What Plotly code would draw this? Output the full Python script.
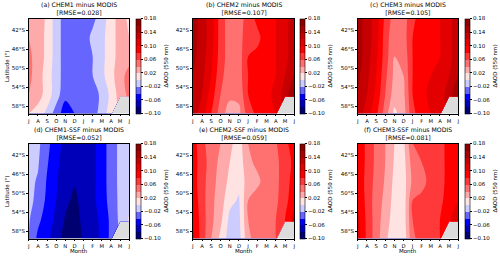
import plotly.graph_objects as go

months = ["J", "A", "S", "O", "N", "D", "J", "F", "M", "A", "M", "J"]
month_idx = list(range(12))
lats = [-39.5, -43.5, -47.5, -51.5, -55.5, -59.5]
lat_ticks = [-42, -46, -50, -54, -58]
lat_labels = ["42°S", "46°S", "50°S", "54°S", "58°S"]
nan = float("nan")

chem1 = [
    [0.025, 0.035, 0.015, -0.01, -0.03, -0.03, -0.03, -0.025, -0.01, 0.01, 0.03, 0.015],
    [0.04, 0.03, 0.015, -0.01, -0.03, -0.03, -0.03, -0.015, -0.005, 0.01, 0.03, 0.02],
    [0.045, 0.03, 0.015, -0.01, -0.03, -0.03, -0.03, -0.02, -0.005, 0.01, 0.03, 0.035],
    [0.045, 0.03, 0.01, -0.01, -0.03, -0.03, -0.03, -0.02, -0.005, 0.012, 0.035, 0.045],
    [0.04, 0.03, 0.01, -0.01, -0.035, -0.035, -0.03, -0.03, -0.015, 0.005, 0.03, 0.045],
    [0.02, 0.01, -0.005, -0.03, -0.05, -0.04, -0.035, -0.03, -0.01, 0.01, nan, nan],
]
chem2 = [
    [0.15, 0.13, 0.11, 0.07, 0.05, 0.05, 0.07, 0.085, 0.09, 0.10, 0.115, 0.13],
    [0.15, 0.13, 0.11, 0.07, 0.05, 0.05, 0.075, 0.075, 0.09, 0.10, 0.115, 0.13],
    [0.145, 0.13, 0.105, 0.07, 0.05, 0.05, 0.08, 0.085, 0.09, 0.10, 0.115, 0.13],
    [0.14, 0.125, 0.10, 0.065, 0.05, 0.05, 0.08, 0.09, 0.095, 0.10, 0.12, 0.14],
    [0.14, 0.12, 0.09, 0.06, 0.045, 0.045, 0.08, 0.09, 0.095, 0.105, 0.13, 0.16],
    [0.13, 0.11, 0.08, 0.05, 0.03, 0.035, 0.07, 0.085, 0.09, 0.10, nan, nan],
]
chem3 = [
    [0.15, 0.13, 0.11, 0.075, 0.05, 0.05, 0.075, 0.09, 0.095, 0.10, 0.115, 0.13],
    [0.15, 0.13, 0.11, 0.07, 0.045, 0.05, 0.08, 0.09, 0.095, 0.10, 0.115, 0.13],
    [0.15, 0.13, 0.105, 0.07, 0.04, 0.045, 0.08, 0.09, 0.095, 0.10, 0.115, 0.13],
    [0.145, 0.125, 0.10, 0.065, 0.035, 0.04, 0.08, 0.09, 0.10, 0.105, 0.12, 0.14],
    [0.14, 0.12, 0.095, 0.06, 0.03, 0.035, 0.08, 0.095, 0.105, 0.11, 0.13, 0.16],
    [0.13, 0.11, 0.085, 0.05, 0.015, 0.03, 0.075, 0.09, 0.10, 0.105, nan, nan],
]
chem1_ssf = [
    [-0.012, -0.015, -0.035, -0.05, -0.068, -0.072, -0.07, -0.065, -0.05, -0.03, -0.015, -0.01],
    [-0.012, -0.018, -0.038, -0.055, -0.07, -0.075, -0.07, -0.065, -0.05, -0.03, -0.015, -0.01],
    [-0.015, -0.022, -0.042, -0.058, -0.072, -0.078, -0.07, -0.065, -0.05, -0.03, -0.015, -0.008],
    [-0.015, -0.025, -0.045, -0.06, -0.075, -0.085, -0.072, -0.065, -0.05, -0.032, -0.015, -0.005],
    [-0.018, -0.035, -0.05, -0.065, -0.082, -0.088, -0.075, -0.068, -0.055, -0.035, -0.015, 0.002],
    [-0.02, -0.045, -0.055, -0.07, -0.09, -0.09, -0.078, -0.07, -0.055, -0.035, nan, nan],
]
chem2_ssf = [
    [0.09, 0.065, 0.05, 0.04, 0.025, 0.01, 0.04, 0.05, 0.05, 0.058, 0.075, 0.09],
    [0.09, 0.07, 0.05, 0.035, 0.02, 0.008, 0.035, 0.045, 0.05, 0.055, 0.07, 0.085],
    [0.09, 0.068, 0.048, 0.032, 0.015, 0.005, 0.03, 0.035, 0.05, 0.055, 0.07, 0.09],
    [0.095, 0.068, 0.045, 0.03, 0.005, -0.002, 0.04, 0.05, 0.05, 0.055, 0.075, 0.09],
    [0.10, 0.07, 0.045, 0.025, -0.005, -0.005, 0.04, 0.05, 0.05, 0.06, 0.08, 0.11],
    [0.105, 0.07, 0.04, 0.015, -0.01, -0.008, 0.035, 0.05, 0.05, 0.06, nan, nan],
]
chem3_ssf = [
    [0.095, 0.075, 0.055, 0.04, 0.02, 0.015, 0.06, 0.07, 0.07, 0.075, 0.085, 0.095],
    [0.095, 0.075, 0.055, 0.04, 0.018, 0.012, 0.05, 0.06, 0.07, 0.075, 0.085, 0.095],
    [0.095, 0.073, 0.053, 0.038, 0.015, 0.01, 0.045, 0.05, 0.07, 0.075, 0.085, 0.095],
    [0.10, 0.073, 0.05, 0.035, 0.012, 0.008, 0.06, 0.068, 0.07, 0.075, 0.09, 0.10],
    [0.105, 0.075, 0.05, 0.03, 0.01, 0.008, 0.06, 0.07, 0.075, 0.08, 0.095, 0.12],
    [0.11, 0.075, 0.05, 0.025, 0.005, 0.005, 0.055, 0.07, 0.075, 0.08, nan, nan],
]

titles = [
    "(a) CHEM1 minus MODIS<br>[RMSE=0.028]",
    "(b) CHEM2 minus MODIS<br>[RMSE=0.107]",
    "(c) CHEM3 minus MODIS<br>[RMSE=0.105]",
    "(d) CHEM1-SSF minus MODIS<br>[RMSE=0.052]",
    "(e) CHEM2-SSF minus MODIS<br>[RMSE=0.059]",
    "(f) CHEM3-SSF minus MODIS<br>[RMSE=0.081]",
]
panels = [chem1, chem2, chem3, chem1_ssf, chem2_ssf, chem3_ssf]

band_colors = [
    "#000070", "#0000b8", "#0000ff", "#6666ff", "#ccccff",
    "#ffe3e3", "#ffaaaa", "#ff7171", "#ff3939", "#ff0000",
    "#e30000", "#c60000", "#aa0000", "#8e0000",
]
cb_ticks = [-0.10, -0.06, -0.02, 0.02, 0.06, 0.10, 0.14, 0.18]
cb_text = ["−0.10", "−0.06", "−0.02", "0.02", "0.06", "0.10", "0.14", "0.18"]

n = len(band_colors)
colorscale = []
for i, c in enumerate(band_colors):
    colorscale.append([i / n, c])
    colorscale.append([(i + 1) / n, c])

W, H = 500, 256
col_x = [(27, 128, 135), (192, 294, 300), (358, 459, 466)]
row_y = [(18.5, 113.5), (143.5, 238.5)]
FONT = "DejaVu Sans"

fig = go.Figure()
annotations = []
for k, z in enumerate(panels):
    r, c = divmod(k, 3)
    x0, x1, cbx = col_x[c]
    y0, y1 = row_y[r]
    ax = k + 1
    xa = "x" if ax == 1 else f"x{ax}"
    ya = "y" if ax == 1 else f"y{ax}"
    fig.add_trace(go.Contour(
        x=month_idx, y=lats, z=z,
        xaxis=xa, yaxis=ya,
        zmin=-0.10, zmax=0.18,
        autocontour=False,
        contours=dict(start=-0.10, end=0.18, size=0.02, coloring="fill", showlines=False),
        line=dict(width=0, color="rgba(0,0,0,0)"),
        colorscale=colorscale,
        connectgaps=False,
        colorbar=dict(
            x=cbx / W, xanchor="left", xpad=0, ypad=0,
            y=1 - (y0 + y1) / 2 / H, yanchor="middle",
            len=(y1 - y0) / H, lenmode="fraction",
            thickness=4.5, thicknessmode="pixels",
            outlinewidth=0.6, outlinecolor="black",
            tickvals=cb_ticks, ticktext=cb_text,
            ticks="outside", ticklen=2, tickwidth=0.6, tickcolor="black",
            tickfont=dict(size=5.5, family=FONT, color="black"),
            title=dict(text="ΔAOD (550 nm)", side="right", font=dict(size=5.5, family=FONT, color="black")),
        ),
        hoverinfo="skip",
    ))
    key = "" if ax == 1 else str(ax)
    fig.layout["xaxis" + key] = dict(
        domain=[x0 / W, x1 / W], anchor=ya, range=[0, 11],
        tickvals=month_idx, ticktext=months,
        ticks="outside", ticklen=2, tickwidth=0.6, tickcolor="black",
        tickfont=dict(size=5.3, family=FONT, color="black"),
        showline=True, mirror=True, linecolor="black", linewidth=0.6,
        showgrid=False, zeroline=False,
    )
    fig.layout["yaxis" + key] = dict(
        domain=[1 - y1 / H, 1 - y0 / H], anchor=xa, range=[-59.5, -39.5],
        tickvals=lat_ticks, ticktext=lat_labels,
        ticks="outside", ticklen=2, tickwidth=0.6, tickcolor="black",
        tickfont=dict(size=5.5, family=FONT, color="black"),
        showline=True, mirror=True, linecolor="black", linewidth=0.6,
        showgrid=False, zeroline=False,
    )
    annotations.append(dict(
        text=titles[k], x=(x0 + x1) / 2 / W, y=1 - (y0 - 0.5) / H,
        xref="paper", yref="paper", xanchor="center", yanchor="bottom",
        showarrow=False, font=dict(size=6.2, family=FONT, color="black"),
    ))
    if c == 0:
        annotations.append(dict(
            text="Latitude (°)", x=5 / W, y=1 - (y0 + y1) / 2 / H,
            xref="paper", yref="paper", xanchor="center", yanchor="middle",
            textangle=-90, showarrow=False, font=dict(size=5.5, family=FONT, color="black"),
        ))
    if r == 1:
        annotations.append(dict(
            text="Month", x=(x0 + x1) / 2 / W, y=1 - 251 / H,
            xref="paper", yref="paper", xanchor="center", yanchor="middle",
            showarrow=False, font=dict(size=5.5, family=FONT, color="black"),
        ))

fig.update_layout(
    width=W, height=H,
    margin=dict(l=0, r=0, t=0, b=0),
    paper_bgcolor="white", plot_bgcolor="#dcdcdc",
    showlegend=False, annotations=annotations,
    font=dict(family=FONT),
)
fig.write_html(
    "out.html",
    config={"displayModeBar": False},
    post_script="document.body.style.margin='0';document.body.style.overflow='hidden';",
)
